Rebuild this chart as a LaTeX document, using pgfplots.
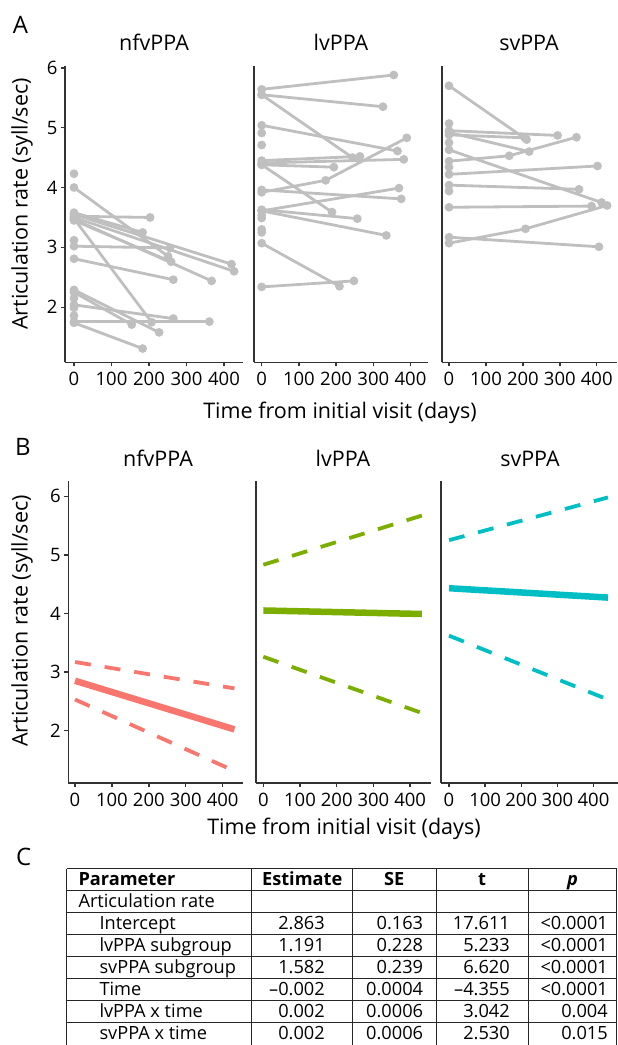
\documentclass[border=0pt]{standalone}
\usepackage{fontspec}
\setmainfont{Open Sans}
\usepackage{pgfplots}
\pgfplotsset{compat=1.18}

\definecolor{subj}{HTML}{BFBFBF}
\definecolor{axisc}{HTML}{333333}
\definecolor{nfv}{HTML}{F8766D}
\definecolor{lv}{HTML}{7CAE00}
\definecolor{sv}{HTML}{00BFC4}

\pgfplotsset{
  ppa/.style={
    scale only axis,
    axis x line*=bottom, axis y line*=left,
    axis line style={draw=axisc, line width=1.6pt, -},
    tick style={draw=axisc, line width=1.4pt},
    tick align=outside, major tick length=4pt,
    xtick={0,100,200,300,400},
    tick label style={font=\fontsize{18.5}{20}\selectfont, text=black},
    xticklabel style={yshift=-2.5pt},
    /pgf/number format/assume math mode=true,
    clip=false,
  },
  panelA/.style={ppa, height=296.3pt, ymin=1.08, ymax=6.03},
  panelB/.style={ppa, height=301.7pt, ymin=1.11, ymax=6.26},
  firsty/.style={ytick={2,3,4,5,6}},
  noy/.style={ytick=\empty},
  subj/.style={color=subj, line width=2.8pt, mark=*, mark size=2.9pt,
    mark options={fill=subj, draw=subj, solid}},
  fit/.style={line width=6.5pt},
  ci/.style={line width=3.8pt, dash pattern=on 16pt off 14pt},
}

\begin{document}
\begin{tikzpicture}
\path[use as bounding box] (0pt,0pt) rectangle (618pt,-1045pt);

% ---------- panel A: individual trajectories ----------
\begin{axis}[panelA, firsty, at={(65pt,-362.3pt)}, anchor=south west,
  width=178pt, xmin=-24, xmax=450.7]
\addplot[subj] coordinates {(0,4.23)};
\addplot[subj] coordinates {(0,4.00) (251,2.85)};
\addplot[subj] coordinates {(0,3.52) (203,3.50)};
\addplot[subj] coordinates {(0,3.58) (183,3.25)};
\addplot[subj] coordinates {(0,3.55) (420,2.72)};
\addplot[subj] coordinates {(0,3.50) (427,2.60)};
\addplot[subj] coordinates {(0,3.47) (367,2.44)};
\addplot[subj] coordinates {(0,3.45) (259,2.76)};
\addplot[subj] coordinates {(0,3.48) (207,1.75)};
\addplot[subj] coordinates {(0,3.12)};
\addplot[subj] coordinates {(0,3.02) (256,2.99)};
\addplot[subj] coordinates {(0,2.81) (265,2.46)};
\addplot[subj] coordinates {(0,2.29) (227,1.58)};
\addplot[subj] coordinates {(0,2.25) (154,1.71)};
\addplot[subj] coordinates {(0,2.15)};
\addplot[subj] coordinates {(0,2.04) (265,1.81)};
\addplot[subj] coordinates {(0,1.99)};
\addplot[subj] coordinates {(0,1.86)};
\addplot[subj] coordinates {(0,1.76) (361,1.76)};
\addplot[subj] coordinates {(0,1.74) (183,1.31)};
\end{axis}

\begin{axis}[panelA, noy, at={(254pt,-362.3pt)}, anchor=south west,
  width=174pt, xmin=-20.7, xmax=447]
\addplot[subj] coordinates {(0,5.64) (355,5.88)};
\addplot[subj] coordinates {(0,5.55) (326,5.35)};
\addplot[subj] coordinates {(0,5.55) (244,4.50)};
\addplot[subj] coordinates {(0,5.04) (365,4.61)};
\addplot[subj] coordinates {(0,4.91)};
\addplot[subj] coordinates {(0,4.71)};
\addplot[subj] coordinates {(0,4.45) (264,4.52)};
\addplot[subj] coordinates {(0,4.41) (382,4.47)};
\addplot[subj] coordinates {(0,4.38) (194,4.34)};
\addplot[subj] coordinates {(0,4.38) (189,3.59)};
\addplot[subj] coordinates {(0,3.92) (172,4.12) (390,4.83)};
\addplot[subj] coordinates {(0,3.96) (375,3.81)};
\addplot[subj] coordinates {(0,3.61) (369,3.99)};
\addplot[subj] coordinates {(0,3.63) (257,3.48)};
\addplot[subj] coordinates {(0,3.61) (335,3.20)};
\addplot[subj] coordinates {(0,3.54)};
\addplot[subj] coordinates {(0,3.49)};
\addplot[subj] coordinates {(0,3.30)};
\addplot[subj] coordinates {(0,3.25)};
\addplot[subj] coordinates {(0,3.07) (209,2.35)};
\addplot[subj] coordinates {(0,2.34) (248,2.44)};
\end{axis}

\begin{axis}[panelA, noy, at={(441.7pt,-362.3pt)}, anchor=south west,
  width=175pt, xmin=-19.8, xmax=454]
\addplot[subj] coordinates {(0,5.70) (210,4.80)};
\addplot[subj] coordinates {(0,5.07)};
\addplot[subj] coordinates {(0,4.95) (294,4.87)};
\addplot[subj] coordinates {(0,4.92) (217,4.60)};
\addplot[subj] coordinates {(0,4.88) (205,4.83)};
\addplot[subj] coordinates {(0,4.75)};
\addplot[subj] coordinates {(0,4.63) (413,3.75)};
\addplot[subj] coordinates {(0,4.44) (163,4.53) (345,4.84)};
\addplot[subj] coordinates {(0,4.34)};
\addplot[subj] coordinates {(0,4.22) (402,4.36)};
\addplot[subj] coordinates {(0,4.04) (352,3.97)};
\addplot[subj] coordinates {(0,3.94)};
\addplot[subj] coordinates {(0,3.67) (386,3.69)};
\addplot[subj] coordinates {(0,3.07) (207,3.31) (428,3.70)};
\addplot[subj] coordinates {(0,3.17) (406,3.01)};
\end{axis}

% ---------- panel B: model fits ----------
\begin{axis}[panelB, firsty, at={(68.3pt,-782.7pt)}, anchor=south west,
  width=175pt, xmin=-18.2, xmax=456]
\addplot[nfv, ci] coordinates {(0,3.17) (432,2.72)};
\addplot[nfv, fit] coordinates {(0,2.85) (432,2.02)};
\addplot[nfv, ci] coordinates {(0,2.53) (432,1.31)};
\end{axis}

\begin{axis}[panelB, noy, at={(256pt,-782.7pt)}, anchor=south west,
  width=174.7pt, xmin=-19.9, xmax=456]
\addplot[lv, ci] coordinates {(0,4.83) (432,5.67)};
\addplot[lv, fit] coordinates {(0,4.05) (432,3.99)};
\addplot[lv, ci] coordinates {(0,3.26) (432,2.30)};
\end{axis}

\begin{axis}[panelB, noy, at={(440.7pt,-782.7pt)}, anchor=south west,
  width=177pt, xmin=-23, xmax=467]
\addplot[sv, ci] coordinates {(0,5.25) (440,5.98)};
\addplot[sv, fit] coordinates {(0,4.43) (440,4.27)};
\addplot[sv, ci] coordinates {(0,3.62) (440,2.53)};
\end{axis}

% ---------- labels ----------
\begin{scope}[every node/.style={inner sep=0pt, font=\fontsize{21.5}{24}\selectfont}]
\node[anchor=base west, font=\fontsize{24}{28}\selectfont] at (12.7pt,-33.3pt) {A};
\node[anchor=base west, font=\fontsize{24}{28}\selectfont] at (15pt,-455pt) {B};
\node[anchor=base west, font=\fontsize{24}{28}\selectfont] at (16pt,-865pt) {C};
\node[anchor=base] at (154pt,-50pt) {nfvPPA};
\node[anchor=base] at (341pt,-50pt) {lvPPA};
\node[anchor=base] at (529pt,-50pt) {svPPA};
\node[anchor=base] at (158pt,-466.5pt) {nfvPPA};
\node[anchor=base] at (343pt,-466.5pt) {lvPPA};
\node[anchor=base] at (530pt,-466.5pt) {svPPA};
\node[anchor=base] at (340pt,-418pt) {Time from initial visit (days)};
\node[anchor=base] at (344pt,-834pt) {Time from initial visit (days)};
\node[anchor=base, rotate=90] at (27.5pt,-204pt) {Articulation rate (syll/sec)};
\node[anchor=base, rotate=90] at (27.5pt,-621pt) {Articulation rate (syll/sec)};
\end{scope}

% ---------- panel C: table ----------
\begin{scope}[line width=0.9pt, draw=black!85]
\foreach \k in {0,...,7}
  \draw ({66.7pt},{-868.5pt-\k*22pt}) -- ({616.5pt},{-868.5pt-\k*22pt});
\foreach \xx in {66.7,251.7,352.7,436,528.3,616.5}
  \draw ({\xx pt},-868.5pt) -- ({\xx pt},-1046pt);
\end{scope}
\begin{scope}[every node/.style={inner sep=0pt, font=\fontsize{18.2}{20}\selectfont}]
\def\rb#1{-885.8pt-#1*22pt}
\node[anchor=base west] at (78.3pt,{\rb{0}}) {\textbf{Parameter}};
\node[anchor=base] at (302.2pt,{\rb{0}}) {\textbf{Estimate}};
\node[anchor=base] at (394.3pt,{\rb{0}}) {\textbf{SE}};
\node[anchor=base] at (482pt,{\rb{0}}) {\textbf{t}};
\node[anchor=base] at (572.5pt,{\rb{0}}) {\textbf{\textit{p}}};
\node[anchor=base west] at (78.3pt,{\rb{1}}) {Articulation rate};
\foreach \r/\a/\b/\c/\d/\e in {
  2/Intercept/2.863/0.163/17.611/<0.0001,
  3/lvPPA subgroup/1.191/0.228/5.233/<0.0001,
  4/svPPA subgroup/1.582/0.239/6.620/<0.0001,
  5/Time/--0.002/0.0004/--4.355/<0.0001,
  6/lvPPA x time/0.002/0.0006/3.042/0.004,
  7/svPPA x time/0.002/0.0006/2.530/0.015}{
  \node[anchor=base west] at (99.3pt,{\rb{\r}}) {\a};
  \node[anchor=base east] at (325pt,{\rb{\r}}) {\b};
  \node[anchor=base east] at (423.3pt,{\rb{\r}}) {\c};
  \node[anchor=base east] at (510pt,{\rb{\r}}) {\d};
  \node[anchor=base east] at (608pt,{\rb{\r}}) {\e};
}
\end{scope}
\end{tikzpicture}
\end{document}
